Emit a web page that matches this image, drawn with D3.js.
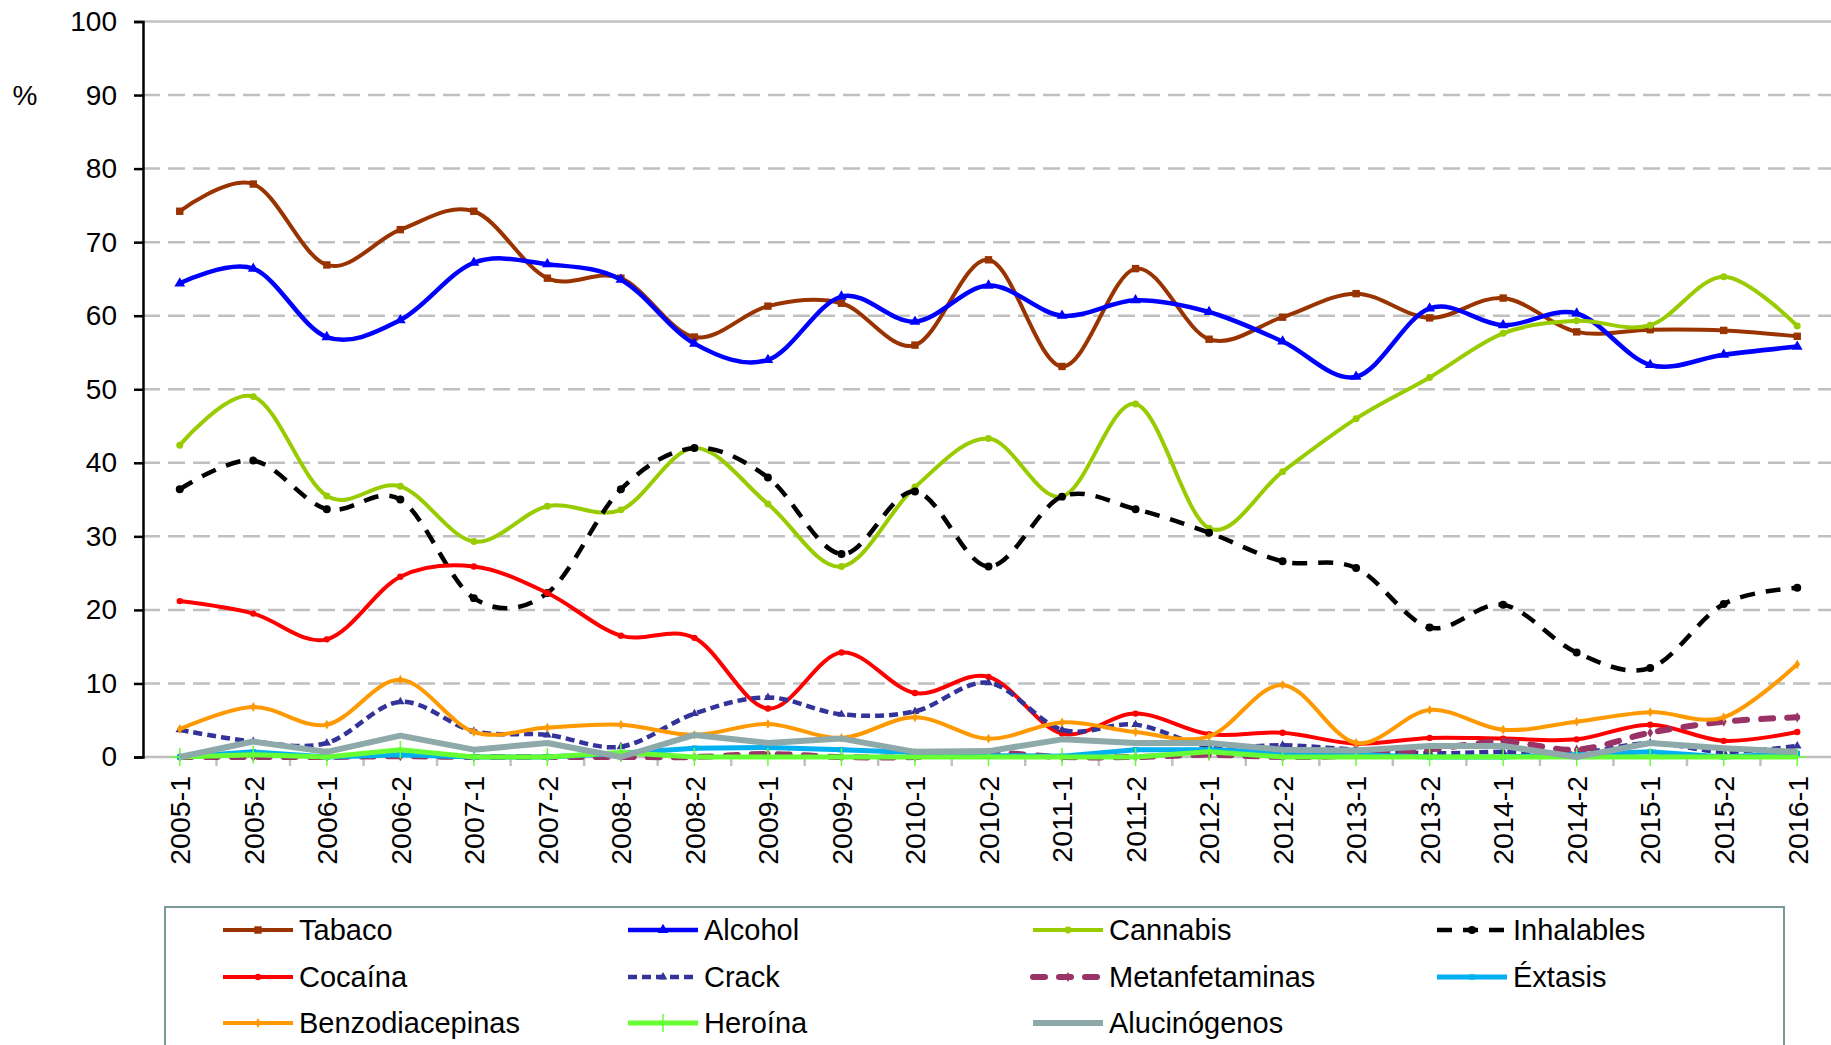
<!DOCTYPE html>
<html>
<head>
<meta charset="utf-8">
<script src="https://cdn.jsdelivr.net/npm/d3@7"></script>
<style>
  body { margin: 0; background: #fff; }
  svg { display: block; font-family: Arial, "Liberation Sans", sans-serif; }
</style>
</head>
<body>
<div id="chart"></div>
<script>
// periods (semester)
var periods = ["2005-1","2005-2","2006-1","2006-2","2007-1","2007-2","2008-1","2008-2",
   "2009-1","2009-2","2010-1","2010-2","2011-1","2011-2","2012-1","2012-2",
   "2013-1","2013-2","2014-1","2014-2","2015-1","2015-2","2016-1"]

var yTicks = [0,10,20,30,40,50,60,70,80,90,100]

var tabaco = [74.2,77.9,66.9,71.7,74.2,65.1,65.1,57.1,61.3,61.7,56.0,67.6,53.1,66.4,56.8,59.8,63.0,59.7,62.4,57.8,58.1,58.0,57.2]
var alcohol = [64.4,66.4,57.1,59.4,67.2,67.0,64.9,56.2,54.0,62.6,59.2,64.1,60.0,62.1,60.5,56.5,51.7,61.0,58.7,60.3,53.3,54.7,55.8]
var cannabis = [42.4,49.0,35.5,36.8,29.3,34.1,33.6,42.0,34.4,25.9,36.7,43.3,35.4,48.0,31.1,38.8,46.0,51.6,57.6,59.3,58.7,65.3,58.6]
var inhalables = [36.4,40.3,33.7,35.0,21.6,22.3,36.4,42.0,38.0,27.6,36.1,25.9,35.4,33.7,30.5,26.6,25.7,17.6,20.7,14.2,12.1,20.8,23.0]
var cocaina = [21.2,19.5,16.0,24.5,25.9,22.3,16.5,16.2,6.6,14.2,8.7,10.9,3.2,5.9,3.1,3.3,1.8,2.6,2.5,2.4,4.4,2.2,3.4]
var crack = [3.7,2.1,1.9,7.5,3.5,3.0,1.4,5.9,8.1,5.8,6.2,10.1,3.7,4.4,1.4,1.6,1.0,0.5,0.7,0.5,1.9,0.7,1.5]
var metanfetaminas = [0,0,0,0.1,0,0,0,0,0.4,0,0,0.6,0,0,0.3,0,0.2,1.0,2.1,1.0,3.3,4.8,5.4]
var extasis = [0,0.7,0,0.3,0,0,0.5,1.2,1.3,1.0,0.6,0.2,0.1,1.0,1.0,0.6,0.3,0,0,0.3,0.7,0,0.5]
var benzodiacepinas = [3.8,6.8,4.4,10.5,3.4,4.0,4.4,3.0,4.5,2.6,5.4,2.5,4.7,3.4,2.8,9.8,1.9,6.4,3.7,4.8,6.1,5.4,12.6]
var heroina = [0,0.3,0,1.0,0,0,0.6,0,0,0,0,0,0,0,0.7,0,0,0,0,0,0,0,0]
var alucinogenos = [0,2.1,0.7,2.9,1.0,1.9,0,3.0,1.9,2.5,0.7,0.8,2.4,1.9,1.9,1.0,0.9,1.5,1.5,0,1.9,1.2,0.7]

// series in legend / drawing order
var series = [
   { name: "Tabaco", values: tabaco, color: "#993300", width: 4, marker: "square", size: 55 },
   { name: "Alcohol", values: alcohol, color: "#0000ff", width: 4.5, marker: "triangle", size: 50 },
   { name: "Cannabis", values: cannabis, color: "#99cc00", width: 4, marker: "circle", size: 38 },
   { name: "Inhalables", values: inhalables, color: "#000000", width: 4.5, marker: "circle", size: 50, dash: "15,11" },
   { name: "Cocaína", values: cocaina, color: "#ff0000", width: 4, marker: "circle", size: 32 },
   { name: "Crack", values: crack, color: "#333399", width: 4.5, marker: "triangle", size: 32, dash: "9,5" },
   { name: "Metanfetaminas", values: metanfetaminas, color: "#993366", width: 6, marker: "diamond", size: 30, dash: "12,14", cap: "round" },
   { name: "Éxtasis", values: extasis, color: "#00b0f0", width: 5, marker: "square", size: 30, linear: true },
   { name: "Benzodiacepinas", values: benzodiacepinas, color: "#ff9900", width: 4, marker: "diamond", size: 28 },
   { name: "Heroína", values: heroina, color: "#66ff33", width: 5, marker: "plus", size: 9, linear: true },
   { name: "Alucinógenos", values: alucinogenos, color: "#8ea9a9", width: 6, marker: null, linear: true }
]

var width = 1831
var height = 1045
var plotLeft = 143
var plotTop = 21.5
var plotBottom = 757

var svg = d3.select("#chart").append("svg")
   .attr("width", width)
   .attr("height", height)

var x = d3.scaleBand().domain(periods).range([plotLeft, 1834])
var cx = function(p) { return x(p) + x.bandwidth() / 2 }
var y = d3.scaleLinear().domain([0, 100]).range([plotBottom, plotTop])

// gridlines
svg.append("g").selectAll("line.grid").data(yTicks.filter(function(d) { return d > 0 }))
   .enter().append("line")
      .attr("class", "grid")
      .attr("x1", plotLeft).attr("x2", width)
      .attr("y1", function(d) { return y(d) }).attr("y2", function(d) { return y(d) })
      .attr("stroke", "#c0c0c0")
      .attr("stroke-width", 2.5)
      .attr("stroke-dasharray", function(d) { return d == 100 ? null : "17,8" })

// x axis line and boundary ticks
svg.append("line")
   .attr("x1", plotLeft).attr("x2", width)
   .attr("y1", y(0)).attr("y2", y(0))
   .attr("stroke", "#c0c0c0").attr("stroke-width", 2.5)

svg.append("g").selectAll("line.xtick").data(periods.slice(1))
   .enter().append("line")
      .attr("x1", function(d) { return x(d) }).attr("x2", function(d) { return x(d) })
      .attr("y1", y(0)).attr("y2", y(0) + 9)
      .attr("stroke", "#c0c0c0").attr("stroke-width", 2.5)

// x labels, rotated
var xAxis = svg.append("g")
   .attr("transform", "translate(0," + (y(0) + 19) + ")")
   .call(d3.axisBottom(x).tickSize(0).tickPadding(0))
xAxis.select(".domain").remove()
xAxis.selectAll("text")
   .attr("font-size", 28.5)
   .attr("fill", "#000")
   .attr("font-family", "Arial, 'Liberation Sans', sans-serif")
   .attr("text-anchor", "end")
   .attr("transform", "rotate(-90)")
   .attr("x", 0).attr("y", 0)
   .attr("dy", "0.36em")

// y axis
var yAxis = svg.append("g")
   .attr("transform", "translate(" + plotLeft + ",0)")
   .call(d3.axisLeft(y).tickValues(yTicks).tickSize(9).tickPadding(17))
yAxis.select(".domain").attr("stroke", "#000").attr("stroke-width", 2.5)
yAxis.selectAll(".tick line").attr("stroke", "#000").attr("stroke-width", 2.5)
yAxis.selectAll("text")
   .attr("font-size", 28)
   .attr("fill", "#000")
   .attr("font-family", "Arial, 'Liberation Sans', sans-serif")

svg.append("text")
   .text("%")
   .attr("x", 25).attr("y", y(90))
   .attr("dy", "0.36em")
   .attr("text-anchor", "middle")
   .attr("font-size", 28)

function symbolType(m) {
   if(m == "square") return d3.symbolSquare
   if(m == "triangle") return d3.symbolTriangle
   if(m == "diamond") return d3.symbolDiamond
   return d3.symbolCircle
}

function drawMarker(g, s, px, py) {
   if(!s.marker) return
   if(s.marker == "plus") {
      g.append("path")
         .attr("d", "M" + (px - s.size) + "," + py + "H" + (px + s.size) + "M" + px + "," + (py - s.size) + "V" + (py + s.size))
         .attr("stroke", s.color).attr("stroke-width", 1.5).attr("fill", "none")
      return
   }
   g.append("path")
      .attr("d", d3.symbol().type(symbolType(s.marker)).size(s.size)())
      .attr("transform", "translate(" + px + "," + py + ")")
      .attr("fill", s.color)
}

// series lines
var plot = svg.append("g")
series.forEach(function(s) {
   let line = d3.line()
      .x(function(d, i) { return cx(periods[i]) })
      .y(function(d) { return y(d) })
      .curve(s.linear ? d3.curveLinear : d3.curveCatmullRom.alpha(0))

   let g = plot.append("g").attr("class", "series")
   g.append("path")
      .attr("d", line(s.values))
      .attr("fill", "none")
      .attr("stroke", s.color)
      .attr("stroke-width", s.width)
      .attr("stroke-dasharray", s.dash || null)
      .attr("stroke-linecap", s.cap || "butt")
      .attr("stroke-linejoin", "round")

   s.values.forEach(function(v, i) {
      drawMarker(g, s, cx(periods[i]), y(v))
   })
})

// legend
var legend = svg.append("g")
legend.append("rect")
   .attr("x", 165).attr("y", 907)
   .attr("width", 1619).attr("height", 200)
   .attr("fill", "none")
   .attr("stroke", "#7a9a9a")
   .attr("stroke-width", 2)

var colX = [223, 628, 1033, 1437]
var rowY = [930, 977, 1023]

series.forEach(function(s, i) {
   let lx = colX[i % 4]
   let ly = rowY[Math.floor(i / 4)]
   let g = legend.append("g")
   g.append("line")
      .attr("x1", lx).attr("x2", lx + 70)
      .attr("y1", ly).attr("y2", ly)
      .attr("stroke", s.color)
      .attr("stroke-width", s.width)
      .attr("stroke-dasharray", s.dash || null)
      .attr("stroke-linecap", s.cap || "butt")
   drawMarker(g, s, lx + 35, ly)
   g.append("text")
      .text(s.name)
      .attr("x", lx + 76).attr("y", ly)
      .attr("dy", "0.36em")
      .attr("font-size", 29)
      .attr("fill", "#000")
})
</script>
</body>
</html>
